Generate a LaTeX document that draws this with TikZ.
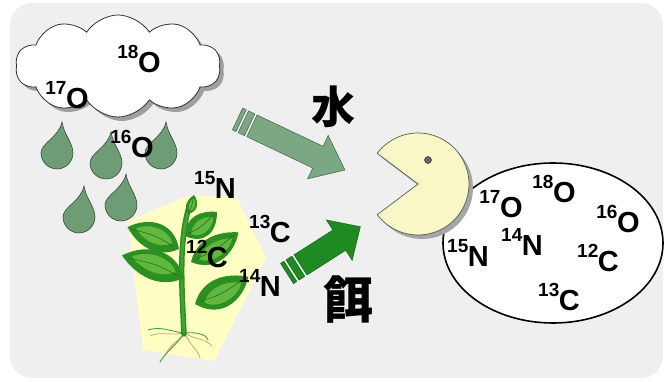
\documentclass[tikz,border=0pt]{standalone}
\usepackage{fontspec}
\setmainfont{Liberation Sans}
\newfontfamily\cjkfont{Noto Sans CJK JP}
\usetikzlibrary{shapes.symbols,shadows,calc}

\definecolor{bg}{HTML}{EFEFF0}
\definecolor{dropgreen}{HTML}{6E9C75}
\definecolor{dropedge}{HTML}{3C4A3E}
\definecolor{waterfill}{HTML}{7BA882}
\definecolor{wateredge}{HTML}{4F6E54}
\definecolor{feedfill}{HTML}{1F8A22}
\definecolor{feededge}{HTML}{17661A}
\definecolor{plantbg}{HTML}{FFFFC4}
\definecolor{leafdark}{HTML}{2B8F22}
\definecolor{leaflight}{HTML}{62B83F}
\definecolor{stemgreen}{HTML}{45A335}
\definecolor{rootcol}{HTML}{C9A96A}
\definecolor{pacfill}{HTML}{FAF7C6}

% isotope label: mass number raised in front of the element symbol
\newcommand\iso[2]{{\bfseries\raisebox{14pt}{\fontsize{19}{19}\selectfont #1}\kern-0.5pt{\fontsize{29}{29}\selectfont #2}}}

% teardrop: bulb centre (x,y), radius 16, point leaning right
\newcommand\raindrop[2]{%
  \filldraw[dropstyle] (#1+5,#2-31)
    .. controls (#1+7,#2-18) and (#1+16,#2-10) .. (#1+16,#2)
    .. controls (#1+16,#2+8.8) and (#1+8.8,#2+16) .. (#1,#2+16)
    .. controls (#1-8.8,#2+16) and (#1-16,#2+8.8) .. (#1-16,#2)
    .. controls (#1-16,#2-10) and (#1+2,#2-16) .. cycle;}

% leaf: base (x,y), direction, length, half-width
\newcommand\leaf[5]{%
  \begin{scope}[shift={(#1,#2)}, rotate=#3]
    \fill[leafdark] (0,0) .. controls (0.25*#4,1.7*#5) and (0.7*#4,1.5*#5) .. (#4,0)
      .. controls (0.7*#4,-1.0*#5) and (0.3*#4,-1.4*#5) .. cycle;
    \fill[leaflight] (0.15*#4,0.2*#5) .. controls (0.3*#4,1.15*#5) and (0.7*#4,0.95*#5) .. (0.85*#4,0.15*#5)
      .. controls (0.65*#4,-0.45*#5) and (0.35*#4,-0.65*#5) .. cycle;
    \draw[leafdark!80!black, line width=0.6pt] (0.1*#4,0) .. controls (0.45*#4,0.25*#5) .. (0.9*#4,0);
  \end{scope}}

\tikzset{
  dropstyle/.style={fill=dropgreen, draw=dropedge, line width=0.6pt},
  isolabel/.style={inner sep=0pt, text=black},
  kanji/.style={inner sep=0pt, font=\cjkfont\bfseries},
  root/.style={rootcol, line width=0.8pt, line cap=round},
  greenroot/.style={stemgreen, line width=0.9pt, line cap=round},
}

\begin{document}
\begin{tikzpicture}[x=1pt,y=-1pt]
\useasboundingbox (0,0) rectangle (670,382);

% panel
\fill[bg, rounded corners=22pt] (10,3) rectangle (663,378);

% cloud
\node[cloud, cloud puffs=10, cloud puff arc=115, aspect=2.05, draw=black!80, line width=0.8pt, fill=white,
      minimum width=205pt, minimum height=102pt,
      drop shadow={shadow xshift=4pt, shadow yshift=-4pt, fill=gray!75, opacity=1}]
      (cloud) at (118,66) {};
\node[isolabel] (c18o) at (139,59) {\iso{18}{O}};
\node[isolabel] (c17o) at (67,95) {\iso{17}{O}};

% rain
\raindrop{57}{153}
\raindrop{106}{163}
\raindrop{161}{153}
\raindrop{79}{217}
\raindrop{121}{205}
\node[isolabel] (r16o) at (132,144) {\iso{16}{O}};

% plant on its yellow patch
\fill[plantbg] (128,221) -- (188,196) -- (236,196) -- (266,258) -- (214,361) -- (143,350) -- cycle;
% roots
\draw[root] (184,333) .. controls (172,336) and (160,331) .. (150,336);
\draw[root] (184,333) .. controls (178,342) and (168,346) .. (165,356);
\draw[root] (185,333) .. controls (195,340) and (205,338) .. (212,346);
\draw[root] (185,334) .. controls (190,345) and (198,350) .. (200,358);
\draw[greenroot] (183,333) .. controls (170,331) and (160,326) .. (148,330);
\draw[greenroot] (184,334) .. controls (176,345) and (166,352) .. (160,362);
\draw[greenroot] (186,333) .. controls (196,332) and (206,334) .. (208,340);
% stem
\draw[leafdark, line width=5.5pt, line cap=round] (184,334) .. controls (182,290) and (178,240) .. (190,204);
\draw[stemgreen, line width=2.5pt, line cap=round] (184,332) .. controls (182,290) and (178,240) .. (190,206);
% leaves
\leaf{188}{214}{72}{20}{5}
\leaf{185}{236}{37}{40}{11}
\leaf{179}{249}{157}{56}{13}
\leaf{191}{262}{32}{56}{12}
\leaf{184}{278}{160}{66}{14}
\leaf{195}{304}{27}{60}{14}

\node[isolabel] (p15n) at (215,185) {\iso{15}{N}};
\node[isolabel] (p13c) at (270,229) {\iso{13}{C}};
\node[isolabel] (p12c) at (207,254) {\iso{12}{C}};
\node[isolabel] (p14n) at (260,283) {\iso{14}{N}};

% water arrow
\begin{scope}[shift={(237.5,119)}, rotate=-25.4]
  \filldraw[fill=waterfill, draw=wateredge, line width=0.6pt] (0,-12) rectangle (4,12);
  \filldraw[fill=waterfill, draw=wateredge, line width=0.6pt] (6.5,-12) rectangle (13.5,12);
  \filldraw[fill=waterfill, draw=wateredge, line width=0.6pt]
    (16,-12) -- (89,-12) -- (89,-24) -- (119,0) -- (89,24) -- (89,12) -- (16,12) -- cycle;
\end{scope}
\node[kanji, font=\fontsize{44}{44}\selectfont\cjkfont\bfseries] (water) at (333,107) {水};

% feed arrow
\begin{scope}[shift={(287,273.5)}, rotate=32.5]
  \filldraw[fill=feedfill, draw=feededge, line width=0.5pt] (0,-12) rectangle (4,12);
  \filldraw[fill=feedfill, draw=feededge, line width=0.5pt] (6.5,-12) rectangle (13.5,12);
  \filldraw[fill=feedfill, draw=feededge, line width=0.5pt]
    (16,-12) -- (62,-12) -- (62,-24) -- (87,0) -- (62,24) -- (62,12) -- (16,12) -- cycle;
\end{scope}
\node[kanji, font=\fontsize{50}{50}\selectfont\cjkfont\bfseries] (feed) at (348,300) {餌};

% body pool
\draw[black, line width=1.6pt, fill=white] (553,243) ellipse [x radius=110, y radius=80];
\node[isolabel] (e18o) at (554,189) {\iso{18}{O}};
\node[isolabel] (e17o) at (501,204) {\iso{17}{O}};
\node[isolabel] (e16o) at (618,219) {\iso{16}{O}};
\node[isolabel] (e14n) at (522,242) {\iso{14}{N}};
\node[isolabel] (e15n) at (468,253) {\iso{15}{N}};
\node[isolabel] (e12c) at (598,258) {\iso{12}{C}};
\node[isolabel] (e13c) at (559,297) {\iso{13}{C}};

% eater
\fill[gray!70] (422,188) -- +(143:51) arc[start angle=143, end angle=-143, radius=51] -- cycle;
\filldraw[fill=pacfill, draw=black!65, line width=0.7pt] (418,184) -- +(143:51) arc[start angle=143, end angle=-143, radius=51] -- cycle;
\filldraw[fill=gray!80!black, draw=black!80, line width=0.5pt] (428,160) circle[radius=3.5];
\end{tikzpicture}
\end{document}
